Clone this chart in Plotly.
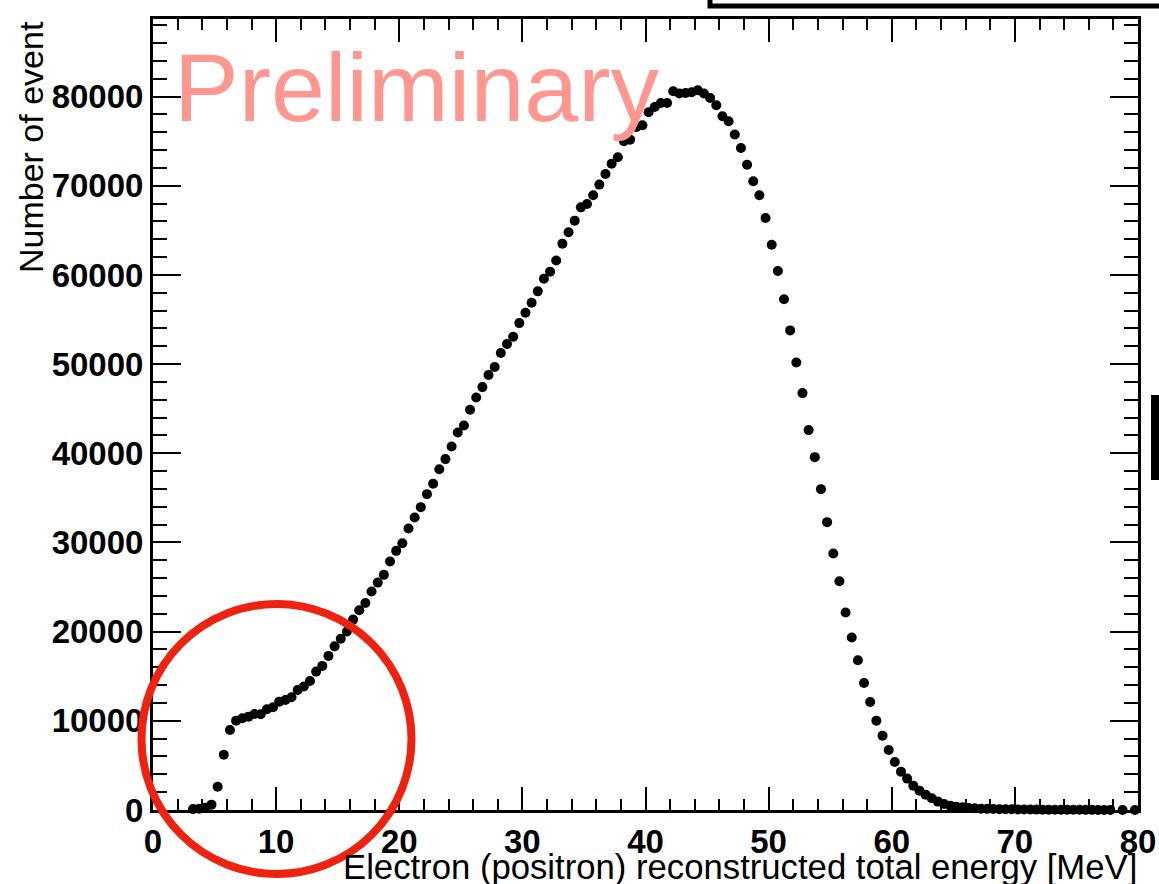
import plotly.graph_objects as go

# ---- data (bin width 0.5 MeV, first bin centre 3.25 MeV) ----
bin_first_centre = 3.25
bin_width = 0.5
counts = [
    100, 150, 250, 600, 2600, 6200, 8980, 10020, 10290, 10470,
    10770, 10740, 11300, 11520, 12150, 12340, 12640, 13460, 13840, 14470,
    15520, 16160, 17280, 18350, 19200, 20010, 21350, 22400, 23220, 24510,
    25500, 26370, 27860, 29060, 29920, 31570, 32800, 33960, 35420, 36580,
    38220, 39350, 40770, 42340, 43120, 44880, 46260, 47420, 48770, 49670,
    51240, 52250, 53070, 54600, 55760, 56890, 58160, 59580, 60370, 61620,
    63510, 64780, 66090, 67580, 67960, 68930, 70130, 71320, 72480, 73190,
    74990, 75170, 76600, 76780, 78240, 78840, 79290, 79290, 80600, 80340,
    80410, 80480, 80710, 80340, 79850, 79030, 77790, 77230, 75740, 74240,
    72370, 70500, 68930, 66390, 63390, 60450, 57280, 53780, 50190, 46750,
    42600, 39570, 35980, 32280, 28760, 25660, 22140, 19340, 16790, 14250,
    12120, 10020, 8340, 6730, 5390, 4300, 3520, 2730, 2170, 1720,
    1310, 940, 670, 490, 370, 300, 220, 190, 150, 130,
    110, 95, 85, 75, 65, 58, 50, 45, 40, 35,
    30, 28, 25, 22, 20, 18, 15, 13, 12, 10,
    None, 5, None, 3,
]
energy = [bin_first_centre + bin_width * i for i in range(len(counts))]

x_ticks = [0, 10, 20, 30, 40, 50, 60, 70, 80]
y_ticks = [0, 10000, 20000, 30000, 40000, 50000, 60000, 70000, 80000]
x_title = "Electron (positron) reconstructed total energy [MeV]"
y_title = "Number of event"
watermark = "Preliminary"

# ---- figure ----
W, H = 1159, 884
L, R, T, B = 153, 1138, 19, 810  # plot-area pixel box
pw, ph = R - L, B - T


def px(xp):
    return (xp - L) / pw


def py(yp):
    return (B - yp) / ph


fig = go.Figure()
fig.add_trace(go.Scatter(
    x=energy, y=counts, mode="markers",
    marker=dict(color="black", size=10, line=dict(width=0)),
    cliponaxis=False, showlegend=False,
))

tickfont = dict(family="Liberation Sans, Arial, sans-serif", size=33, color="black", weight="bold")
labfont = dict(family="Liberation Sans, Arial, sans-serif", size=34, color="black")
xlabfont = dict(family="Liberation Sans, Arial, sans-serif", size=34.7, color="black")

fig.update_layout(
    template="none",
    width=W, height=H, autosize=False,
    margin=dict(l=L, r=W - R, t=T, b=H - B, pad=0, autoexpand=False),
    paper_bgcolor="white", plot_bgcolor="white",
    xaxis=dict(
        range=[0, 80], tickvals=x_ticks, ticktext=[str(v) for v in x_ticks],
        ticks="inside", ticklen=23, tickwidth=2, tickcolor="black",
        showline=True, linewidth=3, linecolor="black", mirror="ticks",
        showgrid=False, zeroline=False, tickfont=tickfont, automargin=False,
        minor=dict(dtick=2, ticks="inside", ticklen=11, tickwidth=2, tickcolor="black", showgrid=False),
    ),
    yaxis=dict(
        range=[0, 88700], tickvals=y_ticks, ticktext=[str(v) for v in y_ticks],
        ticks="inside", ticklen=28, tickwidth=2, tickcolor="black",
        showline=True, linewidth=3, linecolor="black", mirror="ticks",
        showgrid=False, zeroline=False, tickfont=tickfont, automargin=False,
        minor=dict(dtick=2000, ticks="inside", ticklen=14, tickwidth=2, tickcolor="black", showgrid=False),
    ),
)

# axis titles (ROOT style, aligned to the axis ends)
fig.add_annotation(text=x_title, xref="paper", yref="paper", x=1.0, y=py(867),
                   xanchor="right", yanchor="middle", showarrow=False, font=xlabfont, borderpad=0)
fig.add_annotation(text=y_title, xref="paper", yref="paper", x=px(31), y=py(20),
                   xanchor="center", yanchor="top", textangle=-90, showarrow=False,
                   font=labfont, borderpad=0)

# watermark
fig.add_annotation(text=watermark, xref="paper", yref="paper", x=px(173), y=py(88),
                   xanchor="left", yanchor="middle", showarrow=False, borderpad=0,
                   font=dict(family="Liberation Sans, Arial, sans-serif", size=97, color="#fe978f"))

# hand-drawn red circle highlighting the low-energy shoulder
cx, cy, r = 276.5, 739, 135
fig.add_shape(type="circle", xref="paper", yref="paper",
              x0=px(cx - r), x1=px(cx + r), y0=py(cy + r), y1=py(cy - r),
              line=dict(color="#ee2211", width=8), layer="above")

# cropped frame pieces at the image edges
fig.add_shape(type="path", xref="paper", yref="paper",
              path=f"M {px(710)},{py(-5)} L {px(710)},{py(6)} L {px(1165)},{py(6)}",
              line=dict(color="black", width=5))
fig.add_shape(type="rect", xref="paper", yref="paper",
              x0=px(1151), x1=px(1162), y0=py(480), y1=py(395),
              fillcolor="black", line=dict(width=0))

fig.write_html("out.html")
